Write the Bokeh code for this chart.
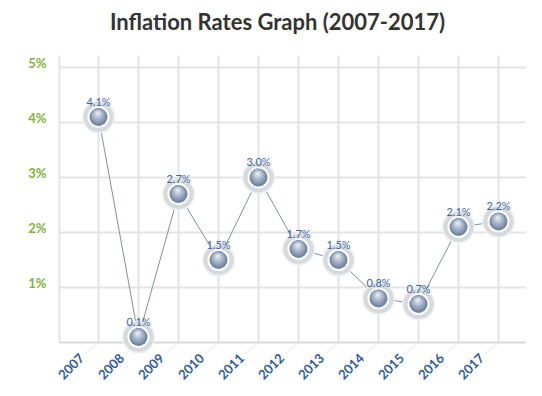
import numpy as np
from bokeh.plotting import figure
from bokeh.models import Range1d, ColumnDataSource, LabelSet
from bokeh.core.properties import value
from bokeh.embed import file_html
from bokeh.resources import INLINE

# ---- data ----
years = ["2007", "2008", "2009", "2010", "2011", "2012", "2013", "2014", "2015", "2016", "2017"]
rates = [4.1, 0.1, 2.7, 1.5, 3.0, 1.7, 1.5, 0.8, 0.7, 2.1, 2.2]
y_ticks = [1, 2, 3, 4, 5]
y_tick_labels = ["1%", "2%", "3%", "4%", "5%"]
title_text = "Inflation Rates Graph (2007-2017)"

# ---- geometry (px per unit) ----
PX_X = 40.0
PX_Y = 55.0
W, H = 526, 388
idx = np.arange(len(years), dtype=float)

# frame covers the full canvas
x0, x1 = -98 / PX_X, (W - 98) / PX_X
y0, y1 = (342 - H) / PX_Y, 342 / PX_Y

p = figure(width=W, height=H, output_backend="svg", toolbar_location=None,
           x_range=Range1d(x0, x1), y_range=Range1d(y0, y1),
           x_axis_location=None, y_axis_location=None,
           min_border=0, outline_line_color=None, background_fill_color="white")
p.xgrid.visible = False
p.ygrid.visible = False

wall_left = -0.975
wall_right = 10.7
wall_top = 5.218
grid_col = "#e4e4e4"

# horizontal grid lines (back wall)
for t in y_ticks:
    p.segment(x0=[wall_left], y0=[t], x1=[wall_right], y1=[t], line_color=grid_col, line_width=2)
# base line
p.segment(x0=[wall_left], y0=[0], x1=[wall_right], y1=[0], line_color="#d9d9d9", line_width=2)
# vertical grid lines
vx = [wall_left] + list(idx)
p.segment(x0=vx, y0=[0] * len(vx), x1=vx, y1=[wall_top] * len(vx), line_color=grid_col, line_width=2)
# floor diagonals
fdx, fdy = -13 / PX_X, -11 / PX_Y
p.segment(x0=idx, y0=np.zeros_like(idx), x1=idx + fdx, y1=np.zeros_like(idx) + fdy,
          line_color="#e8e8e8", line_width=1)

# y labels
p.text(x=[(46 - 98) / PX_X] * len(y_ticks), y=[t + 5 / PX_Y for t in y_ticks], text=y_tick_labels,
       text_font=value("Lato"), text_font_style="bold", text_font_size="13px",
       text_color="#80b43a", text_align="right", text_baseline="middle")

# x labels (rotated, as annotations)
xsrc = ColumnDataSource(dict(x=idx, y=np.zeros_like(idx), t=years))
xlabels = LabelSet(x="x", y="y", text="t", source=xsrc, angle=np.pi / 4,
                   x_offset=-17, y_offset=-13,
                   text_font=value("Lato"), text_font_style="bold", text_font_size="13px",
                   text_color="#2f5a9c", text_align="right", text_baseline="middle")
p.add_layout(xlabels)

# line
src = ColumnDataSource(dict(x=idx, y=rates, lab=[f"{r:.1f}%" for r in rates]))
p.line("x", "y", source=src, line_color="#7f8ea6", line_width=1)

# halo
p.scatter("x", "y", source=src, size=31, fill_color=None, line_color="#eef0f2", line_width=2)
p.scatter("x", "y", source=src, size=26, fill_color="white", fill_alpha=0.7,
          line_color="#d6dadf", line_width=4)

# sphere layers (base + highlights offset upward)
layers = [(18, 0.0, 0.0, "#7184a0"), (15.5, -0.3, 0.9, "#8597b0"), (13, -0.5, 1.8, "#9cabc0"),
          (9.5, -0.6, 2.6, "#b5c2d2"), (6, -0.7, 3.3, "#cdd6e2"), (3, -0.7, 3.8, "#e6ebf2")]
rates_arr = np.array(rates)
for s, dxp, dyp, c in layers:
    p.scatter(x=idx + dxp / PX_X, y=rates_arr + dyp / PX_Y, size=s, fill_color=c, line_color=None)

# value labels
p.text("x", "y", source=src, text="lab", y_offset=-16,
       text_font=value("Lato"), text_font_size="11px", text_color="#3e649c",
       text_align="center", text_baseline="middle")

# title
p.text(x=[(277 - 98) / PX_X], y=[(342 - 21) / PX_Y], text=[title_text],
       text_font=value("Lato"), text_font_style="bold", text_font_size="22px",
       text_color="#333333", text_align="center", text_baseline="middle")

open("out.html", "w").write(file_html(p, INLINE))
